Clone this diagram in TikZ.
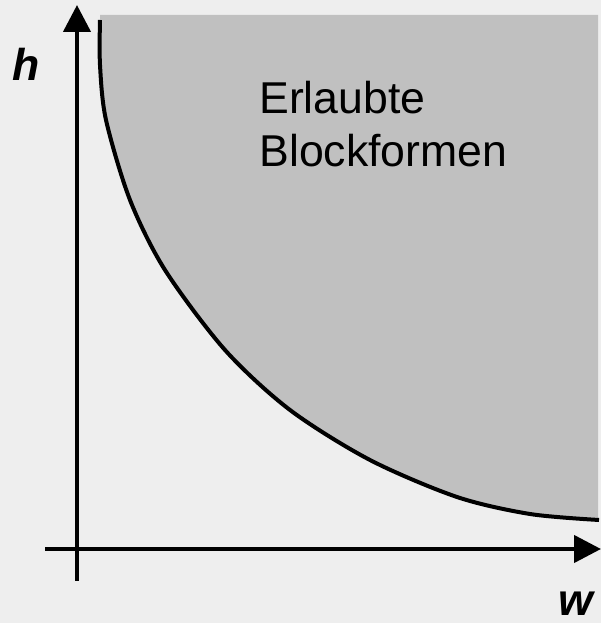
\documentclass[tikz,border=0pt]{standalone}
\usepackage{fontspec}
\setmainfont{Liberation Sans}
\usepackage{tikz}
\usetikzlibrary{arrows.meta}
\definecolor{bgray}{HTML}{EEEEEE}
\definecolor{agray}{HTML}{C0C0C0}
\newcommand{\bordercurve}{(100,603) (100,558) (106,503) (130,423) (165,353) (225,273) (290,213) (370,163) (457,126) (530,109) (599,103)}

\begin{document}
\begin{tikzpicture}[x=0.5pt, y=0.5pt,
   axis/.style={line width=2.2pt, -{Triangle[length=13.5pt, width=13.5pt]}},
   lbl/.style={font=\fontsize{22.3}{27}\selectfont, inner sep=0pt}]
  \fill[bgray] (0,0) rectangle (601,623);
  \useasboundingbox (0,0) rectangle (601,623);
  % allowed region
  \fill[agray] (100,608) -- plot[smooth] coordinates {\bordercurve} -- (598,103) -- (598,608) -- cycle;
  \draw[line width=2pt] plot[smooth] coordinates {\bordercurve};
  % axes
  \coordinate (o1) at (77,42);
  \coordinate (htip) at (77,618);
  \coordinate (o2) at (45,74);
  \coordinate (wtip) at (601,74);
  \draw[axis] (o1) -- (htip);
  \draw[axis] (o2) -- (wtip);
  \node[lbl, font=\fontsize{22.3}{27}\selectfont\bfseries\itshape, anchor=base west] (hlabel) at (12,542) {h};
  \node[lbl, font=\fontsize{22.3}{27}\selectfont\bfseries\itshape, anchor=base east] (wlabel) at (594,7) {w};
  \node[lbl, align=left, anchor=base west] (region) at (259,456) {Erlaubte\\Blockformen};
\end{tikzpicture}
\end{document}
